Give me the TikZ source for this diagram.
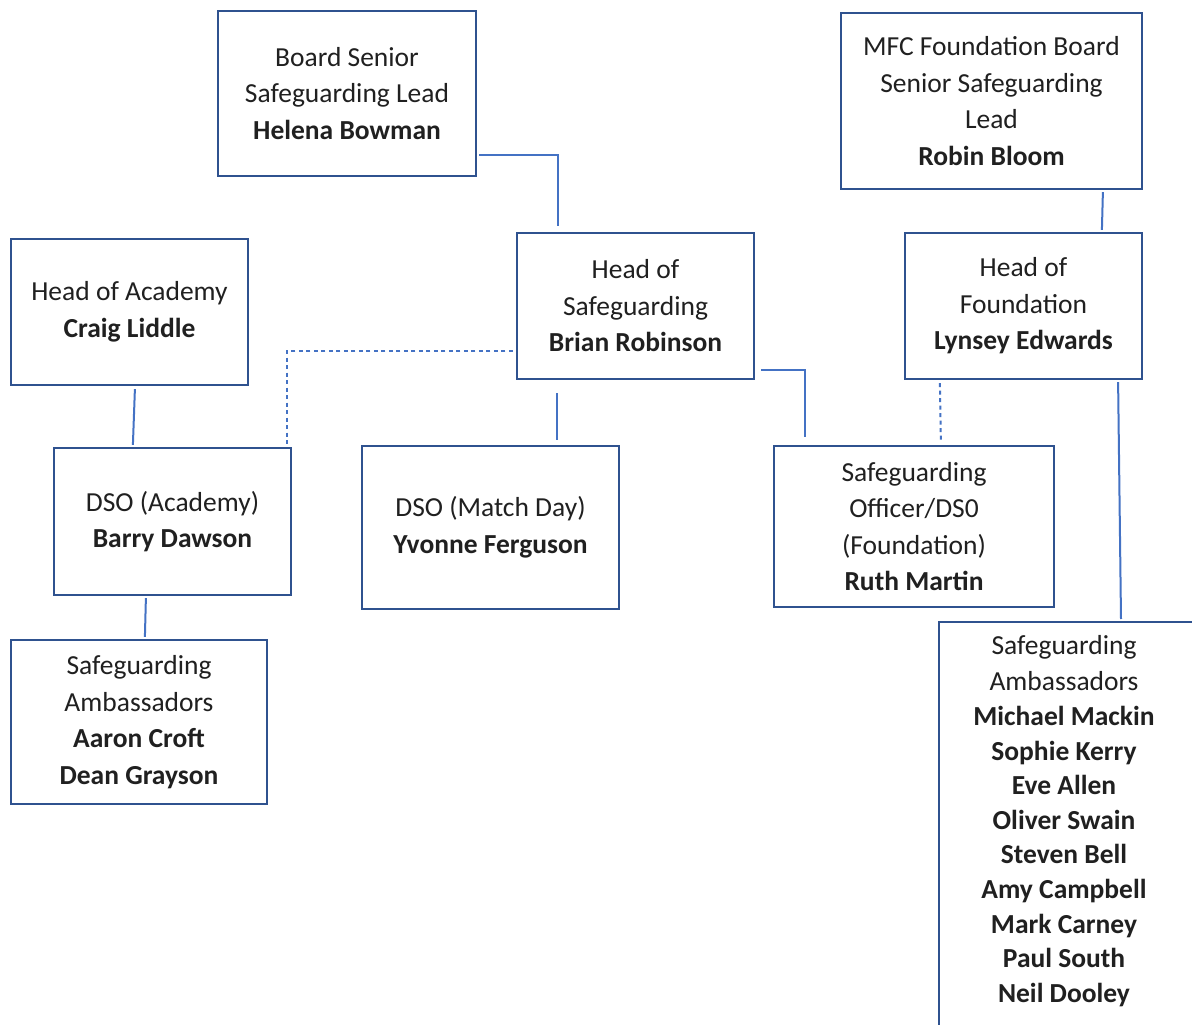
\documentclass[tikz,border=0pt]{standalone}
\usepackage{fontspec}
\setmainfont{Carlito}
\usetikzlibrary{calc}
\definecolor{boxblue}{HTML}{2F528F}
\definecolor{linkblue}{HTML}{4472C4}
\definecolor{txt}{HTML}{202020}
\begin{document}
\begin{tikzpicture}[x=1pt,y=-1pt,
  box/.style={draw=boxblue,line width=2.2pt,inner sep=0pt,align=center,text=txt,
    font=\fontsize{27.5}{36.5}\selectfont},
  conn/.style={draw=linkblue,line width=2pt},
  dotconn/.style={draw=linkblue,line width=2pt,dash pattern=on 4pt off 3.5pt}]
\useasboundingbox (0,0) rectangle (1192,1025);
\clip (0,0) rectangle (1192,1025);
\fill[white] (0,0) rectangle (1192,1025);

\node[box,minimum width=258pt,minimum height=165pt] (board) at (347,93.5)
  {Board Senior\\Safeguarding Lead\\\textbf{Helena Bowman}};
\node[box,minimum width=301pt,minimum height=176pt] (mfc) at (991.5,101)
  {MFC Foundation Board\\Senior Safeguarding\\Lead\\\textbf{Robin Bloom}};
\node[box,minimum width=237pt,minimum height=146pt] (hoa) at (129.5,312)
  {Head of Academy\\\textbf{Craig Liddle}};
\node[box,minimum width=237pt,minimum height=146pt] (hos) at (635.5,306)
  {Head of\\Safeguarding\\\textbf{Brian Robinson}};
\node[box,minimum width=237pt,minimum height=146pt] (hof) at (1023.5,306)
  {Head of\\Foundation\\\textbf{Lynsey Edwards}};
\node[box,minimum width=237pt,minimum height=147pt] (dsoa) at (172.5,521.5)
  {DSO (Academy)\\\textbf{Barry Dawson}};
\node[box,minimum width=257pt,minimum height=163pt] (dsom) at (490.5,527.5)
  {DSO (Match Day)\\\textbf{Yvonne Ferguson}};
\node[box,minimum width=280pt,minimum height=161pt] (sgo) at (914,526.5)
  {Safeguarding\\Officer/DS0\\(Foundation)\\\textbf{Ruth Martin}};
\node[box,minimum width=256pt,minimum height=164pt] (amb1) at (139,722)
  {Safeguarding\\Ambassadors\\\textbf{Aaron Croft}\\\textbf{Dean Grayson}};
\node[box,anchor=north west,minimum width=300pt,minimum height=450pt] (amb2) at (938,621) {};
\node[box,draw=none,font=\fontsize{27.5}{34.6}\selectfont] (amb2txt) at (1064,821)
  {Safeguarding\\[0.07em]Ambassadors\\\textbf{Michael Mackin}\\\textbf{Sophie Kerry}\\\textbf{Eve Allen}\\\textbf{Oliver Swain}\\\textbf{Steven Bell}\\\textbf{Amy Campbell}\\\textbf{Mark Carney}\\\textbf{Paul South}\\\textbf{Neil Dooley}};

\draw[conn] ($(board.east)+(2,61.5)$) -| ($(hos.north west)+(42,-6)$);
\draw[conn] ($(mfc.south west)+(263,2)$) -- ($(hof.north west)+(198,-2)$);
\draw[conn] ($(hoa.south west)+(125,3)$) -- ($(dsoa.north west)+(80,-2)$);
\draw[conn] ($(dsoa.south west)+(93,2)$) -- ($(amb1.north west)+(135,-2)$);
\draw[dotconn] ($(hos.west)+(-3,45)$) -| ($(dsoa.north east)+(-5,-2)$);
\draw[conn] ($(hos.south west)+(41,13)$) -- ($(dsom.north west)+(196,-5)$);
\draw[conn] ($(hos.south east)+(6,-10)$) -| ($(sgo.north west)+(32,-8)$);
\draw[dotconn] ($(hof.south west)+(36,3)$) -- ($(sgo.north west)+(168,-3)$);
\draw[conn] ($(hof.south east)+(-25,2)$) -- ($(amb2.north west)+(183,-2)$);
\end{tikzpicture}
\end{document}
